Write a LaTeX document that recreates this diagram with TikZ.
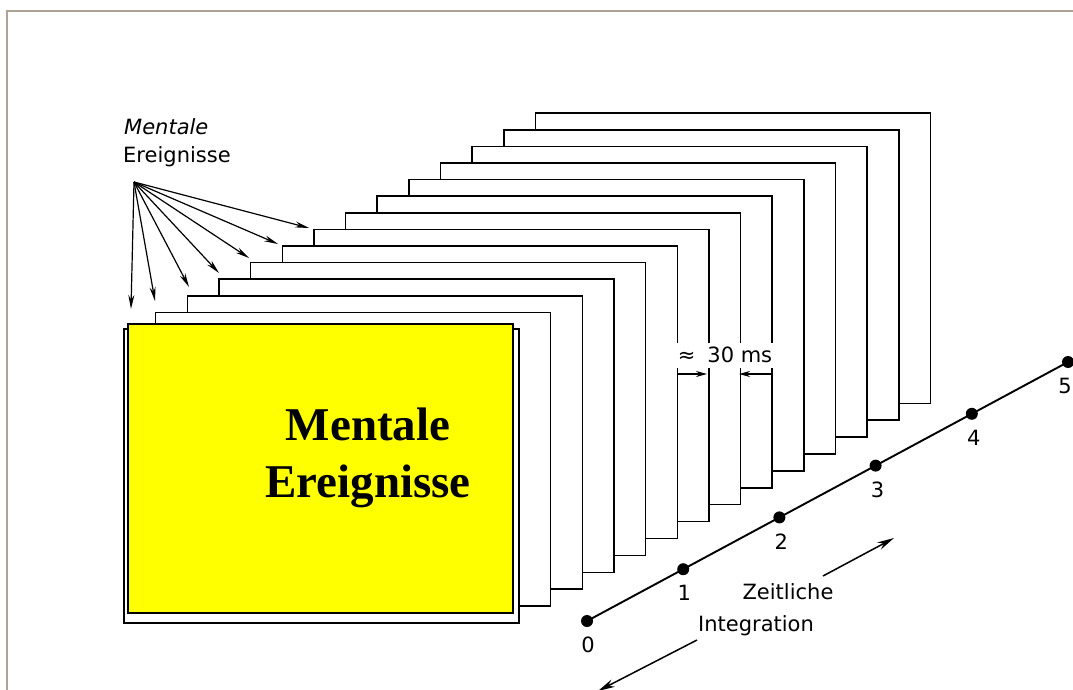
\documentclass[tikz,border=0pt]{standalone}
\usepackage{fontspec}
\setmainfont{DejaVu Sans}
\newfontfamily\boldserif{Liberation Serif}
\usetikzlibrary{arrows.meta,calc}
\definecolor{bordertan}{RGB}{176,162,148}
\definecolor{boxyellow}{RGB}{255,255,0}
\begin{document}
\begin{tikzpicture}[x=1pt,y=-1pt,
  lab/.style={font=\fontsize{21}{25}\selectfont, inner sep=0pt},
  framebox/.style={draw=black, fill=white, line width=1.5pt, inner sep=0pt, outer sep=0pt, rectangle},
  yellowbox/.style={draw=black, fill=boxyellow, line width=2pt, inner sep=0pt, outer sep=0pt, rectangle},
  fanarrow/.style={line width=1.2pt, -{Stealth[length=14pt,width=6pt]}},
  bigarrow/.style={line width=1.5pt, -{Stealth[length=17pt,width=8pt]}},
  dimarrow/.style={line width=1.4pt, -{Stealth[length=11pt,width=6pt]}},
  tdot/.style={circle, fill=black, inner sep=0pt, minimum size=12pt},
  tline/.style={line width=1.9pt},
  border/.style={draw=bordertan, line width=2.2pt}
]
\useasboundingbox (0,0) rectangle (1073,690);
\fill[white] (0,0) rectangle (1073,690);
\draw[border] (7,700) -- (7,11) -- (1090,11);

% stack of frames, back to front
\foreach \k in {13,12,...,0} {
  \pgfmathsetmacro\cx{321.5+31.65*\k}
  \pgfmathsetmacro\cy{476-16.75*\k}
  \pgfmathsetmacro\hh{294-0.3*\k}
  \node[framebox, minimum width=395pt, minimum height=\hh pt] (f\k) at (\cx,\cy) {};
}

% yellow front box
\node[yellowbox, minimum width=385pt, minimum height=289pt] (yb) at (320.5,468.5) {};
\node[inner sep=0pt, anchor=base, font=\boldserif\bfseries\fontsize{47}{50}\selectfont] (ym) at (368,440) {Mentale};
\node[inner sep=0pt, anchor=base, font=\boldserif\bfseries\fontsize{47}{50}\selectfont] (ye) at (368,497) {Ereignisse};

% label and fan of arrows
\node[lab, anchor=base west, font=\fontsize{21}{25}\selectfont\itshape] (lm) at (124,135) {Mentale};
\node[lab, anchor=base west] (le) at (123,162) {Ereignisse};
\coordinate (src) at (134,182);
\coordinate (t1) at (131,309);
\coordinate (t2) at (155,301);
\coordinate (t3) at (189,287);
\coordinate (t4) at (219,273);
\coordinate (t5) at (249,258);
\coordinate (t6) at (278,244);
\coordinate (t7) at (309,228);
\foreach \i in {1,...,7} { \draw[fanarrow] (src) -- (t\i); }

% 30 ms dimension
\node[lab, fill=white, minimum width=96pt, minimum height=25pt] (dim) at (725,355) {≈\hspace{12pt}30 ms};
\coordinate (d1) at (677,374);
\coordinate (d2) at (707,374);
\coordinate (d3) at (771,374);
\coordinate (d4) at (739,374);
\draw[dimarrow] (d1) -- (d2);
\draw[dimarrow] (d3) -- (d4);

% time line
\foreach \k in {0,...,5} {
  \pgfmathsetmacro\px{587+96.2*\k}
  \pgfmathsetmacro\py{621-51.8*\k}
  \node[tdot] (p\k) at (\px,\py) {};
}
\foreach \k/\dx in {0/1,1/1,2/2,3/2,4/2,5/-3} {
  \node[lab] (n\k) at ($(p\k)+(\dx,24)$) {\k};
}
\draw[tline] (p0.center) -- (p1.center) -- (p2.center) -- (p3.center) -- (p4.center) -- (p5.center);

% integration label and arrows
\node[lab] (zl) at (788,592) {Zeitliche};
\node[lab] (il) at (756,626) {Integration};
\coordinate (a1) at (823,576);
\coordinate (a2) at (894,538);
\coordinate (b1) at (697,640);
\coordinate (b2) at (598,691);
\draw[bigarrow] (a1) -- (a2);
\draw[bigarrow] (b1) -- (b2);
\end{tikzpicture}
\end{document}
